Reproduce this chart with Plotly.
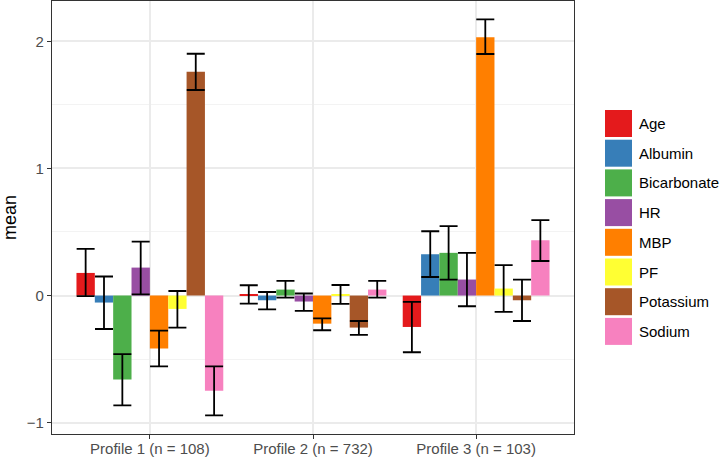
import plotly.graph_objects as go

profiles = ["Profile 1 (n = 108)", "Profile 2 (n = 732)", "Profile 3 (n = 103)"]
variables = ["Age", "Albumin", "Bicarbonate", "HR", "MBP", "PF", "Potassium", "Sodium"]
colors = ["#E41A1C", "#377EB8", "#4DAF4A", "#984EA3", "#FF7F00", "#FFFF33", "#A65628", "#F781BF"]

# means per profile, in the order of `variables`
mean_p1 = [0.178, -0.055, -0.661, 0.220, -0.417, -0.105, 1.761, -0.748]
mean_p2 = [0.005, -0.037, 0.047, -0.047, -0.221, 0.005, -0.252, 0.047]
mean_p3 = [-0.247, 0.325, 0.336, 0.126, 2.031, 0.055, -0.037, 0.435]

# error bar lower ends
lower_p1 = [-0.005, -0.263, -0.864, 0.010, -0.557, -0.252, 1.617, -0.943]
lower_p2 = [-0.063, -0.108, -0.016, -0.121, -0.273, -0.066, -0.310, -0.016]
lower_p3 = [-0.446, 0.146, 0.126, -0.084, 1.900, -0.129, -0.200, 0.272]

# error bar upper ends
upper_p1 = [0.367, 0.150, -0.460, 0.425, -0.276, 0.036, 1.902, -0.557]
upper_p2 = [0.081, 0.028, 0.115, 0.016, -0.179, 0.083, -0.200, 0.115]
upper_p3 = [-0.050, 0.506, 0.546, 0.336, 2.173, 0.239, 0.126, 0.593]

y_ticks = [-1, 0, 1, 2]
y_tick_labels = ["\u22121", "0", "1", "2"]

means = [mean_p1, mean_p2, mean_p3]
lowers = [lower_p1, lower_p2, lower_p3]
uppers = [upper_p1, upper_p2, upper_p3]

FONT = "Liberation Sans, Arial, Helvetica, sans-serif"

fig = go.Figure()
for i, (var, col) in enumerate(zip(variables, colors)):
    m = [means[p][i] for p in range(3)]
    up = [uppers[p][i] - means[p][i] for p in range(3)]
    lo = [means[p][i] - lowers[p][i] for p in range(3)]
    fig.add_trace(go.Bar(
        x=profiles, y=m, name=var,
        marker=dict(color=col, line=dict(width=0)),
        error_y=dict(type="data", symmetric=False, array=up, arrayminus=lo,
                     color="black", thickness=1.8, width=9),
        showlegend=False,
    ))

W, H = 720, 458
L, R, T, B = 52, 146, 1, 24
pw, ph = W - L - R, H - T - B


def px_x(px):
    return (px - L) / pw


def px_y(py):
    return (H - B - py) / ph


shapes = []
annotations = []
for i, (var, col) in enumerate(zip(variables, colors)):
    top = 110 + i * 29.7
    shapes.append(dict(type="rect", xref="paper", yref="paper",
                       x0=px_x(605), x1=px_x(632), y0=px_y(top + 27), y1=px_y(top),
                       fillcolor=col, line=dict(width=0)))
    annotations.append(dict(xref="paper", yref="paper", x=px_x(637), y=px_y(top + 13.5),
                            text=var, showarrow=False, xanchor="left", yanchor="middle",
                            font=dict(family=FONT, size=15, color="black")))

fig.update_layout(
    width=W, height=H,
    margin=dict(l=L, r=R, t=T, b=B, autoexpand=False),
    paper_bgcolor="white", plot_bgcolor="white",
    barmode="group", bargap=0.1, bargroupgap=0,
    font=dict(family=FONT, size=15, color="#4D4D4D"),
    shapes=shapes, annotations=annotations,
    showlegend=False,
)
fig.update_xaxes(
    range=[-0.6, 2.6], automargin=False,
    showgrid=True, gridcolor="#EBEBEB", gridwidth=1.5,
    showline=True, linecolor="#333333", linewidth=1.3, mirror=True,
    ticks="outside", ticklen=4, tickwidth=1.3, tickcolor="#333333",
    tickfont=dict(family=FONT, size=15, color="#4D4D4D"),
    ticklabelstandoff=-3,
    zeroline=False,
)
fig.update_yaxes(
    range=[-1.089, 2.317], automargin=False,
    tickvals=y_ticks, ticktext=y_tick_labels,
    showgrid=True, gridcolor="#EBEBEB", gridwidth=1.5,
    minor=dict(tickvals=[-0.5, 0.5, 1.5], showgrid=True, gridcolor="#F3F3F3", gridwidth=1, ticks=""),
    showline=True, linecolor="#333333", linewidth=1.3, mirror=True,
    ticks="outside", ticklen=4, tickwidth=1.3, tickcolor="#333333",
    tickfont=dict(family=FONT, size=15, color="#4D4D4D"),
    zeroline=False,
    title=dict(text="mean", font=dict(family=FONT, size=18, color="black"), standoff=6),
)

fig.write_html(
    "out.html",
    config={"displayModeBar": False},
    post_script="document.body.style.margin='0';document.body.style.overflow='hidden';",
)
